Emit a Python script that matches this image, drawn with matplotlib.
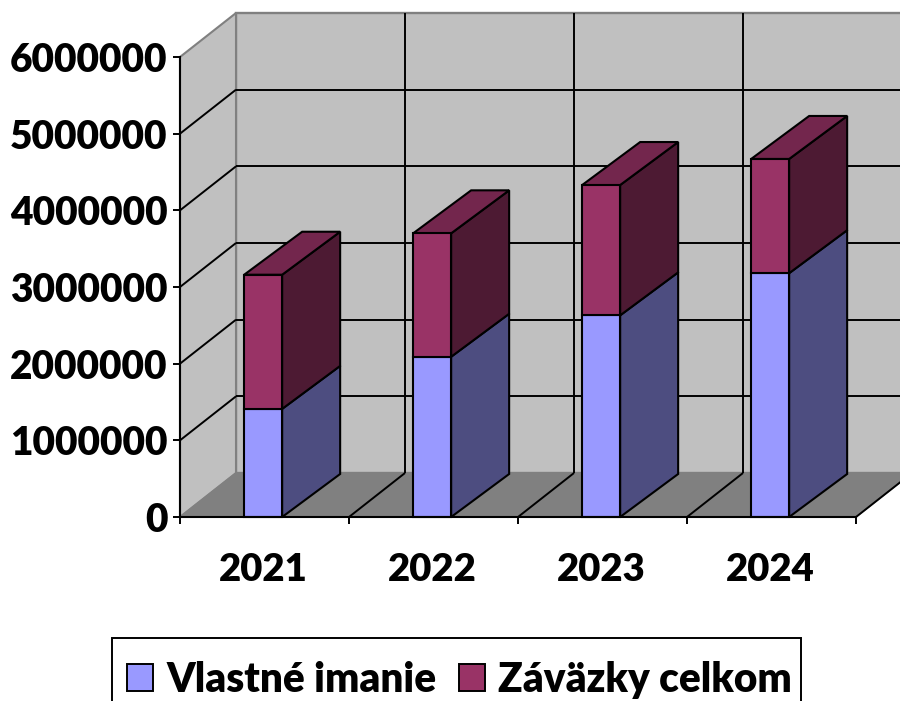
import matplotlib
matplotlib.use('Agg')
import matplotlib.pyplot as plt
from matplotlib.patches import Polygon, Patch, Rectangle

years = ['2021', '2022', '2023', '2024']
vlastne_imanie = [1410000, 2090000, 2630000, 3180000]
zavazky_celkom = [1750000, 1610000, 1700000, 1490000]
y_ticks = [0, 1000000, 2000000, 3000000, 4000000, 5000000, 6000000]
series_names = ['Vlastné imanie', 'Záväzky celkom']

W, H = 900, 701
LEFT, RIGHT, BASE, TOP = 180, 856, 517, 57
cat_px = (RIGHT - LEFT) / len(years)
val_px = (BASE - TOP) / y_ticks[-1]

# oblique depth in data units
wall_dx = 56 / cat_px
wall_dy = 44 / val_px
bar_dx = 58 / cat_px
bar_dy = 43 / val_px
bar_w = 38 / cat_px
bar_mid = 0.492

plt.rcParams['font.family'] = ['Lato', 'DejaVu Sans']
plt.rcParams['font.weight'] = 'heavy'

fig = plt.figure(figsize=(W / 100, H / 100), dpi=100)
ax = fig.add_axes([LEFT / W, 1 - BASE / H, (RIGHT - LEFT) / W, (BASE - TOP) / H])
ax.set_xlim(0, len(years))
ax.set_ylim(0, y_ticks[-1])
ax.patch.set_visible(False)


def poly(pts, face, edge='black', lw=1.4, z=1):
    ax.add_patch(Polygon(pts, closed=True, facecolor=face, edgecolor=edge,
                         linewidth=lw, zorder=z, clip_on=False, joinstyle='miter'))


def line(xs, ys, color='black', lw=1.4, z=2):
    ax.plot(xs, ys, color=color, lw=lw, zorder=z, clip_on=False, solid_capstyle='butt')


n = len(years)
top = y_ticks[-1]
# back wall, side wall, floor
poly([(wall_dx, wall_dy), (n + wall_dx, wall_dy), (n + wall_dx, top + wall_dy), (wall_dx, top + wall_dy)],
     '#C0C0C0', '#808080', 1.7)
poly([(0, 0), (wall_dx, wall_dy), (wall_dx, top + wall_dy), (0, top)], '#C0C0C0', '#808080', 1.5)
poly([(0, 0), (n, 0), (n + wall_dx, wall_dy), (wall_dx, wall_dy)], '#808080', '#808080', 1.0)

# gridlines, the top edge stays grey
for t in y_ticks[1:-1]:
    line([0, wall_dx], [t, t + wall_dy])
    line([wall_dx, n + wall_dx], [t + wall_dy, t + wall_dy])
for i in range(1, n):
    line([i, i + wall_dx], [0, wall_dy])
    line([i + wall_dx, i + wall_dx], [wall_dy, top + wall_dy])
line([n, n + wall_dx], [0, wall_dy])

# stacked boxes
lw = 1.5
for i in range(n):
    x0 = i + bar_mid - bar_w / 2
    x1 = x0 + bar_w
    eq = vlastne_imanie[i]
    tot = eq + zavazky_celkom[i]
    poly([(x1, 0), (x1 + bar_dx, bar_dy), (x1 + bar_dx, eq + bar_dy), (x1, eq)], '#4D4D80', lw=lw, z=3)
    poly([(x1, eq), (x1 + bar_dx, eq + bar_dy), (x1 + bar_dx, tot + bar_dy), (x1, tot)], '#4D1A33', lw=lw, z=3)
    poly([(x0, tot), (x1, tot), (x1 + bar_dx, tot + bar_dy), (x0 + bar_dx, tot + bar_dy)], '#73264D', lw=lw, z=3)
    poly([(x0, 0), (x1, 0), (x1, eq), (x0, eq)], '#9999FF', lw=lw, z=4)
    poly([(x0, eq), (x1, eq), (x1, tot), (x0, tot)], '#993366', lw=lw, z=4)

# axes
for s in ['top', 'right']:
    ax.spines[s].set_visible(False)
for s in ['left', 'bottom']:
    ax.spines[s].set_linewidth(1.5)
    ax.spines[s].set_zorder(5)
ax.set_yticks(y_ticks)
ax.set_yticklabels([str(t) for t in y_ticks])
ax.set_xticks(range(n + 1))
ax.set_xticklabels([])
ax.set_xticks([i + bar_mid for i in range(n)], labels=years, minor=True)
ax.tick_params(axis='y', length=5, width=1.4, labelsize=28, pad=4)
ax.tick_params(axis='x', which='major', length=5, width=1.4)
ax.tick_params(axis='x', which='minor', length=0, labelsize=27.5, pad=26)

# legend frame runs off the bottom of the figure, as in the reference
fig.add_artist(Rectangle((112 / W, -0.02), (801 - 112) / W, 1 - 638 / H + 0.02, transform=fig.transFigure,
                         facecolor='white', edgecolor='black', linewidth=1.4))
handles = [Patch(facecolor='#9999FF', edgecolor='black', linewidth=1.4),
           Patch(facecolor='#993366', edgecolor='black', linewidth=1.4)]
fig.legend(handles, series_names, loc='upper left', bbox_to_anchor=(127 / W, 1 - 661 / H), ncol=2,
           fontsize=29.2, frameon=False, handlelength=0.64, handleheight=0.64, handletextpad=0.33,
           columnspacing=0.55, borderpad=0, borderaxespad=0)

fig.savefig('out.png', dpi=100)
